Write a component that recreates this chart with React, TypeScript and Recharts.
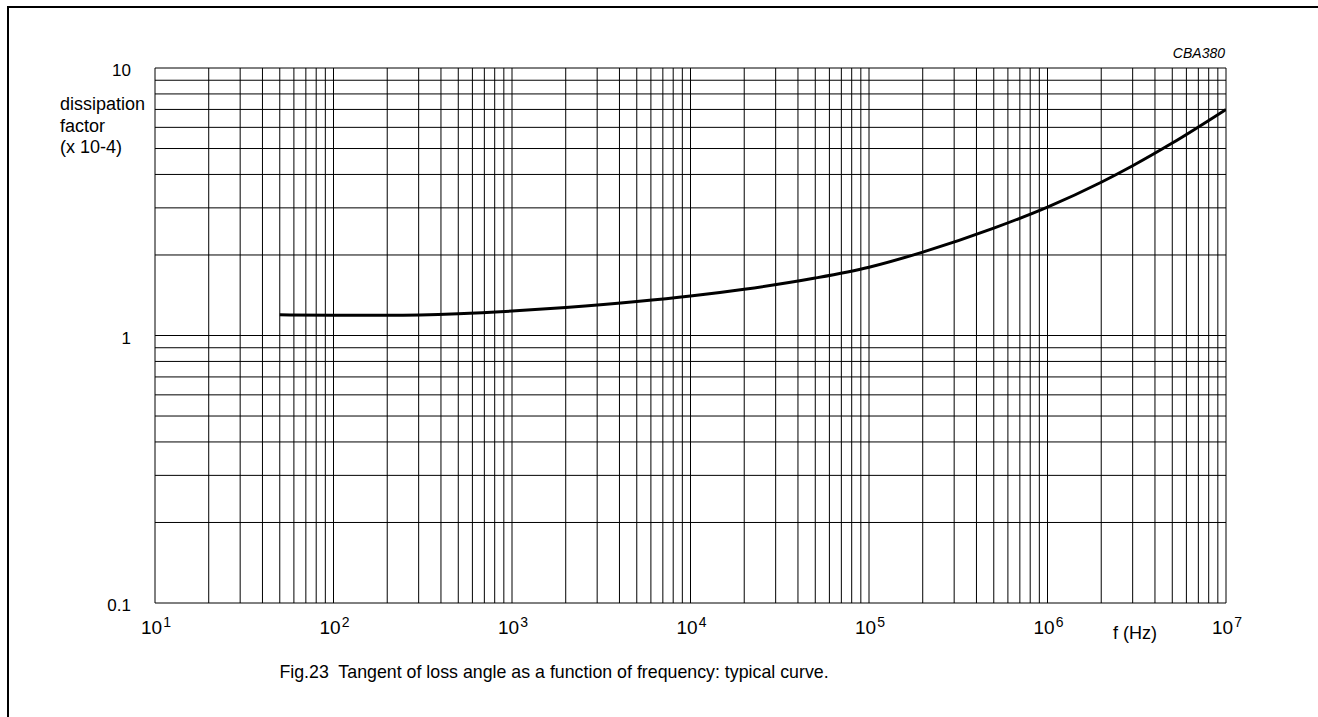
import { CartesianGrid, Line, LineChart, XAxis, YAxis } from 'recharts';

// frequency (Hz) and tan delta (x 10^-4)
const FREQ = [50, 100, 200, 500, 1e3, 2e3, 5e3, 1e4, 2e4, 5e4, 1e5, 2e5, 5e5, 1e6, 2e6, 3e6, 5e6, 1e7];
const TAN_DELTA = [1.195, 1.19, 1.19, 1.206, 1.234, 1.273, 1.339, 1.404, 1.489, 1.64, 1.8, 2.05, 2.52, 3.02, 3.74, 4.31, 5.24, 7.0];

// log grid: every 1..9 step of each decade
const X_TICKS = [
  10, 20, 30, 40, 50, 60, 70, 80, 90,
  100, 200, 300, 400, 500, 600, 700, 800, 900,
  1e3, 2e3, 3e3, 4e3, 5e3, 6e3, 7e3, 8e3, 9e3,
  1e4, 2e4, 3e4, 4e4, 5e4, 6e4, 7e4, 8e4, 9e4,
  1e5, 2e5, 3e5, 4e5, 5e5, 6e5, 7e5, 8e5, 9e5,
  1e6, 2e6, 3e6, 4e6, 5e6, 6e6, 7e6, 8e6, 9e6,
  1e7,
];
const X_LABELS: Record<number, string> = { 10: '1', 100: '2', 1e3: '3', 1e4: '4', 1e5: '5', 1e6: '6', 1e7: '7' };

const Y_TICKS = [0.1, 0.2, 0.3, 0.4, 0.5, 0.6, 0.7, 0.8, 0.9, 1, 2, 3, 4, 5, 6, 7, 8, 9, 10];
const Y_LABELS: Record<number, string> = { 0.1: '0.1', 1: '1', 10: '10' };

const rows = FREQ.map((f, i) => ({ f, v: TAN_DELTA[i] }));

const FONT = '"Liberation Sans", Arial, Helvetica, sans-serif';
const W = 1318;
const H = 717;
const PLOT_BOTTOM = 603;

function FreqTick(props: any) {
  const { x, payload } = props;
  const exp = X_LABELS[payload.value];
  if (!exp) return null;
  return (
    <text x={x - 14} y={PLOT_BOTTOM + 31} textAnchor="start" fontFamily={FONT} fontSize={19} fill="#000">
      <tspan>10</tspan>
      <tspan dy={-7} dx={1} fontSize={14}>{exp}</tspan>
    </text>
  );
}

function FactorTick(props: any) {
  const { y, payload } = props;
  const label = Y_LABELS[payload.value];
  if (!label) return null;
  return (
    <text x={131} y={y + 8} textAnchor="end" fontFamily={FONT} fontSize={17} fill="#000">
      {label}
    </text>
  );
}

export default function App() {
  return (
    <div style={{ position: 'absolute', left: 0, top: 0, width: W, height: H, background: '#fff', overflow: 'hidden' }}>
      {/* page frame: only the top and left edges show */}
      <div style={{ position: 'absolute', left: 7, top: 6, width: W - 7, height: 2, background: '#000' }} />
      <div style={{ position: 'absolute', left: 7, top: 6, width: 2, height: H - 6, background: '#000' }} />
      <div style={{ position: 'absolute', left: 0, top: 0 }}>
        <LineChart width={W} height={H} data={rows} margin={{ top: 68, right: 92, bottom: 74, left: 95 }}>
          <CartesianGrid stroke="#000" strokeWidth={1} />
          <XAxis
            dataKey="f"
            type="number"
            scale="log"
            domain={[10, 1e7]}
            ticks={X_TICKS}
            interval={0}
            allowDataOverflow
            axisLine={false}
            tickLine={false}
            height={40}
            tick={<FreqTick />}
          />
          <YAxis
            type="number"
            scale="log"
            domain={[0.1, 10]}
            ticks={Y_TICKS}
            interval={0}
            allowDataOverflow
            axisLine={false}
            tickLine={false}
            width={60}
            tick={<FactorTick />}
          />
          <Line
            dataKey="v"
            type="monotone"
            stroke="#000"
            strokeWidth={3}
            dot={false}
            activeDot={false}
            isAnimationActive={false}
          />
        </LineChart>
      </div>
      <svg width={W} height={H} style={{ position: 'absolute', left: 0, top: 0, pointerEvents: 'none' }}>
        <g fontFamily={FONT} fill="#000">
          <text x={60} y={110} fontSize={18}>dissipation</text>
          <text x={60} y={132} fontSize={18}>factor</text>
          <text x={60} y={153} fontSize={18}>(x 10-4)</text>
          <text x={1225} y={58} fontSize={14} fontStyle="italic" textAnchor="end">CBA380</text>
          <text x={1135} y={639} fontSize={18} textAnchor="middle">f (Hz)</text>
          <text x={554} y={678} fontSize={17.8} textAnchor="middle" xmlSpace="preserve">Fig.23  Tangent of loss angle as a function of frequency: typical curve.</text>
        </g>
      </svg>
    </div>
  );
}
